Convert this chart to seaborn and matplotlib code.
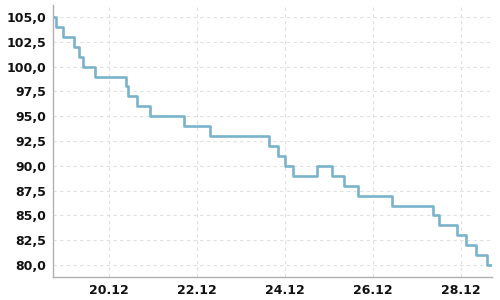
import matplotlib
matplotlib.use("Agg")
import matplotlib.pyplot as plt
import matplotlib.dates as mdates
import matplotlib.ticker as mticker
import seaborn as sns
import pandas as pd

times = ["2023-12-18 17:27", "2023-12-18 18:56", "2023-12-18 22:35", "2023-12-19 04:45",
         "2023-12-19 07:19", "2023-12-19 09:29", "2023-12-19 16:12", "2023-12-20 08:57",
         "2023-12-20 10:22", "2023-12-20 14:57", "2023-12-20 22:12", "2023-12-21 16:55",
         "2023-12-22 06:56", "2023-12-23 15:07", "2023-12-23 19:51", "2023-12-23 23:50",
         "2023-12-24 04:22", "2023-12-24 17:17", "2023-12-25 01:38", "2023-12-25 08:01",
         "2023-12-25 15:29", "2023-12-26 10:22", "2023-12-27 08:34", "2023-12-27 12:00",
         "2023-12-27 21:49", "2023-12-28 02:34", "2023-12-28 08:11", "2023-12-28 14:01",
         "2023-12-28 16:45"]
values = [105, 104, 103, 102, 101, 100, 99, 98, 97, 96, 95, 94, 93, 92, 91, 90, 89,
          90, 89, 88, 87, 86, 85, 84, 83, 82, 81, 80, 80]
yticks = [80.0, 82.5, 85.0, 87.5, 90.0, 92.5, 95.0, 97.5, 100.0, 102.5, 105.0]
xticks = ["2023-12-20", "2023-12-22", "2023-12-24", "2023-12-26", "2023-12-28"]

df = pd.DataFrame({"t": pd.to_datetime(times), "v": values})

sns.set_style("white")
plt.rcParams["font.family"] = ["DejaVu Sans"]
fig = plt.figure(figsize=(5, 3), dpi=100)
ax = fig.add_axes([0.1066, 0.0767, 0.8774, 0.9063])

sns.lineplot(data=df, x="t", y="v", ax=ax, drawstyle="steps-post",
             color="#7ab3cc", linewidth=1.9)

ax.set_xlim(pd.Timestamp("2023-12-18 17:27"), pd.Timestamp("2023-12-28 16:45"))
ax.set_ylim(78.8, 106.2)
ax.set_xticks(pd.to_datetime(xticks))
ax.xaxis.set_major_formatter(mdates.DateFormatter("%d.%m"))
ax.set_yticks(yticks)
ax.yaxis.set_major_formatter(mticker.FuncFormatter(lambda v, p: f"{v:.1f}".replace(".", ",")))
ax.set_xlabel("")
ax.set_ylabel("")
ax.grid(True, color="#e0e0e0", linestyle=(0, (3, 3)), linewidth=0.8)
for s in ["top", "right"]:
    ax.spines[s].set_visible(False)
for s in ["left", "bottom"]:
    ax.spines[s].set_color("#b0b0b0")
    ax.spines[s].set_linewidth(1.0)
ax.tick_params(axis="both", labelsize=9, colors="#b0b0b0", labelcolor="#111111",
               length=3, width=0.8, pad=2)
for lab in ax.get_xticklabels() + ax.get_yticklabels():
    lab.set_fontweight("bold")
fig.savefig("out.png", dpi=100)
